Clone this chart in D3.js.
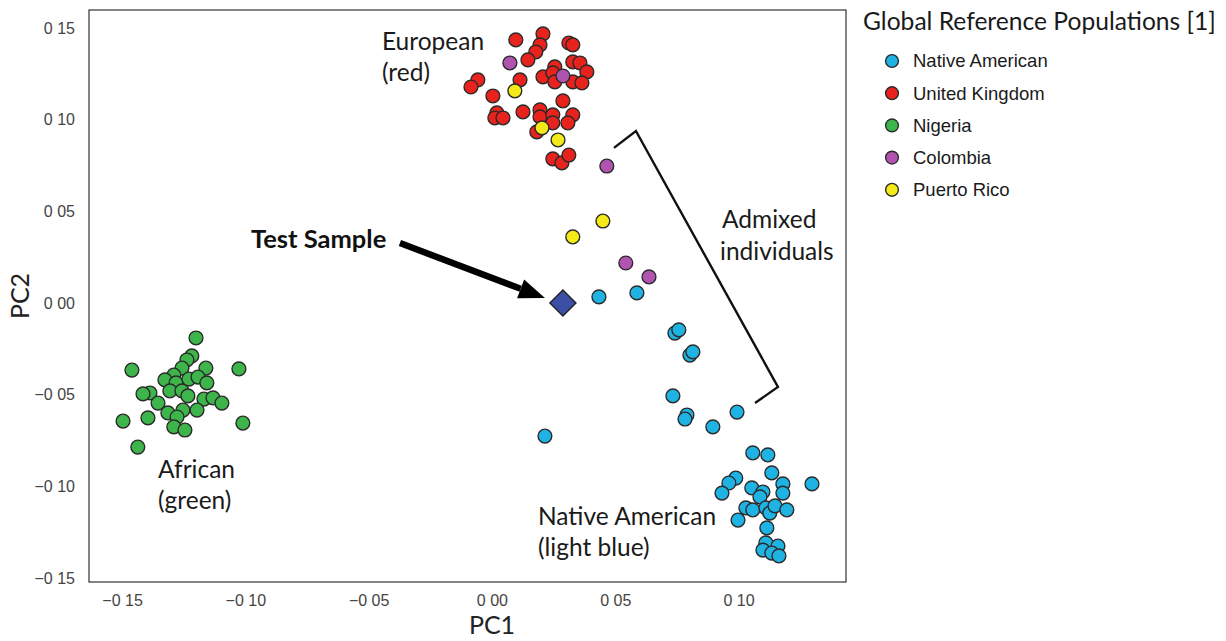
<!DOCTYPE html>
<html>
<head>
<meta charset="utf-8">
<script src="https://d3js.org/d3.v7.min.js"></script>
<style>
  body { margin: 0; background: #fff; }
</style>
</head>
<body>
<div class="graph"></div>
<script>
// PC1 / PC2 coordinates
var nativeAmerican = [
    [0.0434, 0.0033], [0.0588, 0.0055], [0.0742, -0.0164], [0.0758, -0.0147],
    [0.0803, -0.0284], [0.0815, -0.0267], [0.0734, -0.0507], [0.0791, -0.0611],
    [0.0783, -0.0633], [0.0896, -0.0676], [0.0994, -0.0595], [0.0215, -0.0726],
    [0.1058, -0.0818], [0.1119, -0.0829], [0.1135, -0.0927], [0.0989, -0.0955],
    [0.0961, -0.0982], [0.0933, -0.1037], [0.1054, -0.1009], [0.1099, -0.1031],
    [0.1087, -0.1058], [0.1180, -0.0987], [0.1180, -0.1037], [0.1298, -0.0987],
    [0.1030, -0.1118], [0.1058, -0.1129], [0.1111, -0.1118], [0.1127, -0.1146],
    [0.1148, -0.1107], [0.1196, -0.1129], [0.0998, -0.1184], [0.1115, -0.1227],
    [0.1111, -0.1309], [0.1160, -0.1326], [0.1099, -0.1348], [0.1135, -0.1364],
    [0.1164, -0.1380]
];
var unitedKingdom = [
    [0.0097, 0.1435], [0.0207, 0.1468], [0.0195, 0.1408], [0.0178, 0.1369],
    [0.0146, 0.1326], [0.0312, 0.1418], [0.0328, 0.1408], [0.0255, 0.1288],
    [0.0328, 0.1315], [0.0357, 0.1309], [0.0385, 0.1260], [0.0207, 0.1233],
    [0.0247, 0.1255], [0.0255, 0.1206], [0.0328, 0.1206], [0.0365, 0.1200],
    [-0.0057, 0.1217], [-0.0085, 0.1178], [0.0114, 0.1217], [0.0004, 0.1129],
    [0.0020, 0.1037], [0.0012, 0.1009], [0.0045, 0.1009], [0.0126, 0.1042],
    [0.0195, 0.1053], [0.0195, 0.1015], [0.0247, 0.1026], [0.0247, 0.0982],
    [0.0288, 0.1102], [0.0328, 0.1026], [0.0308, 0.0982], [0.0182, 0.0933],
    [0.0247, 0.0786], [0.0284, 0.0764], [0.0312, 0.0807]
];
var nigeria = [
    [-0.1200, -0.0191], [-0.1217, -0.0289], [-0.1237, -0.0311], [-0.1257, -0.0355],
    [-0.1160, -0.0355], [-0.1460, -0.0366], [-0.1026, -0.0360], [-0.1290, -0.0393],
    [-0.1326, -0.0420], [-0.1281, -0.0436], [-0.1229, -0.0415], [-0.1192, -0.0404],
    [-0.1156, -0.0436], [-0.1306, -0.0480], [-0.1257, -0.0480], [-0.1233, -0.0507],
    [-0.1387, -0.0491], [-0.1415, -0.0496], [-0.1354, -0.0546], [-0.1168, -0.0524],
    [-0.1131, -0.0518], [-0.1095, -0.0546], [-0.1196, -0.0584], [-0.1253, -0.0584],
    [-0.1314, -0.0600], [-0.1277, -0.0622], [-0.1395, -0.0627], [-0.1496, -0.0644],
    [-0.1010, -0.0655], [-0.1290, -0.0676], [-0.1245, -0.0693], [-0.1436, -0.0786]
];
var colombia = [
    [0.0073, 0.1309], [0.0288, 0.1238], [0.0466, 0.0747], [0.0543, 0.0218], [0.0637, 0.0142]
];
var puertoRico = [
    [0.0093, 0.1157], [0.0203, 0.0955], [0.0268, 0.0889], [0.0450, 0.0447], [0.0328, 0.0360]
];
var testSample = [0.0288, 0.0];

var populations = ["Native American", "United Kingdom", "Nigeria", "Colombia", "Puerto Rico"];
var popColours = ["#1fb3e3", "#e8221d", "#3db54a", "#b054b0", "#f4ea17"];
var popPoints = [nativeAmerican, unitedKingdom, nigeria, colombia, puertoRico];

var tickValues = [-0.15, -0.10, -0.05, 0.00, 0.05, 0.10, 0.15];
var tickLabels = ["\u22120 15", "\u22120 10", "\u22120 05", "0 00", "0 05", "0 10", "0 15"];

// Configuration Variables
var width = 1226,
    height = 641,
    plotLeft = 89, plotRight = 846,
    plotTop = 10, plotBottom = 582;

var calibri = "Lato, 'Open Sans', sans-serif";
var arial = "'Liberation Sans', Arial, sans-serif";

var x = d3.scaleLinear().domain([-0.1634, 0.1436]).range([plotLeft, plotRight]);
var y = d3.scaleLinear().domain([0.1598, -0.1522]).range([plotTop, plotBottom]);

var svg = d3.select('.graph').append("svg")
    .attr("width", width)
    .attr("height", height)
    .style("display", "block");

// axes (no tick marks, just labels)
var xAxis = d3.axisBottom(x)
    .tickValues(tickValues.slice(0, 6))
    .tickSize(0)
    .tickPadding(13)
    .tickFormat(function(d, i) { return tickLabels[i]; });

var yAxis = d3.axisLeft(y)
    .tickValues(tickValues)
    .tickSize(0)
    .tickPadding(14)
    .tickFormat(function(d, i) { return tickLabels[i]; });

var gx = svg.append("g")
    .attr("transform", "translate(0," + plotBottom + ")")
    .call(xAxis);
var gy = svg.append("g")
    .attr("transform", "translate(" + plotLeft + ",0)")
    .call(yAxis);

[gx, gy].forEach(function(g) {
    g.select(".domain").remove();
    g.selectAll("text")
        .style("font-family", arial)
        .style("font-size", "16px")
        .style("fill", "#444");
});

svg.append("rect")
    .attr("x", plotLeft)
    .attr("y", plotTop)
    .attr("width", plotRight - plotLeft)
    .attr("height", plotBottom - plotTop)
    .style("fill", "none")
    .style("stroke", "#333")
    .style("stroke-width", 1.2);

// axis titles
svg.append("text")
    .attr("x", 492)
    .attr("y", 634)
    .attr("text-anchor", "middle")
    .style("font-family", calibri)
    .style("font-size", "25px")
    .style("fill", "#222")
    .text("PC1");

svg.append("text")
    .attr("transform", "translate(29," + (plotTop + plotBottom) / 2 + ") rotate(-90)")
    .attr("text-anchor", "middle")
    .style("font-family", calibri)
    .style("font-size", "25px")
    .style("fill", "#222")
    .text("PC2");

// points
populations.forEach(function(name, i) {
    svg.append("g").selectAll("circle")
        .data(popPoints[i])
        .enter().append("circle")
        .attr("cx", function(d) { return x(d[0]); })
        .attr("cy", function(d) { return y(d[1]); })
        .attr("r", 6.9)
        .style("fill", popColours[i])
        .style("stroke", "#2b2b2b")
        .style("stroke-width", 1.4);
});

// test sample diamond
svg.append("path")
    .attr("d", d3.symbol().type(d3.symbolSquare).size(340))
    .attr("transform", "translate(" + x(testSample[0]) + "," + y(testSample[1]) + ") rotate(45)")
    .style("fill", "#3b4fa5")
    .style("stroke", "#222")
    .style("stroke-width", 1.4);

// arrow
var arrowFrom = [x(-0.0373), y(0.0327)],
    arrowTo = [x(0.0215), y(0.0027)];
var ang = Math.atan2(arrowTo[1] - arrowFrom[1], arrowTo[0] - arrowFrom[0]);
var headLen = 26, headHalf = 10;
var base = [arrowTo[0] - headLen * Math.cos(ang), arrowTo[1] - headLen * Math.sin(ang)];
svg.append("line")
    .attr("x1", arrowFrom[0]).attr("y1", arrowFrom[1])
    .attr("x2", base[0]).attr("y2", base[1])
    .style("stroke", "#000")
    .style("stroke-width", 6.5);
svg.append("path")
    .attr("d", "M" + arrowTo +
        "L" + [base[0] + headHalf * Math.sin(ang), base[1] - headHalf * Math.cos(ang)] +
        "L" + [base[0] - headHalf * Math.sin(ang), base[1] + headHalf * Math.cos(ang)] + "Z")
    .style("fill", "#000");

// bracket around the admixed individuals
var bracket = [[0.0495, 0.0846], [0.0584, 0.0938], [0.1160, -0.0458], [0.1067, -0.0546]];
svg.append("path")
    .attr("d", d3.line().x(function(d) { return x(d[0]); }).y(function(d) { return y(d[1]); })(bracket))
    .style("fill", "none")
    .style("stroke", "#111")
    .style("stroke-width", 2.4);

// annotation labels
var notes = [
    {t: "European", x: 382, y: 50},
    {t: "(red)", x: 382, y: 81},
    {t: "African", x: 158, y: 478},
    {t: "(green)", x: 158, y: 509},
    {t: "Native American", x: 538, y: 525},
    {t: "(light blue)", x: 538, y: 556},
    {t: "Admixed", x: 722, y: 228},
    {t: "individuals", x: 720, y: 260}
];
svg.append("g").selectAll("text")
    .data(notes)
    .enter().append("text")
    .attr("x", function(d) { return d.x; })
    .attr("y", function(d) { return d.y; })
    .style("font-family", calibri)
    .style("font-size", "24.5px")
    .style("fill", "#1a1a1a")
    .text(function(d) { return d.t; });

svg.append("text")
    .attr("x", 251)
    .attr("y", 248)
    .style("font-family", calibri)
    .style("font-weight", "bold")
    .style("font-size", "25.5px")
    .style("fill", "#111")
    .text("Test Sample");

// legend
svg.append("text")
    .attr("x", 863)
    .attr("y", 30)
    .style("font-family", calibri)
    .style("font-size", "24.6px")
    .style("fill", "#1a1a1a")
    .text("Global Reference Populations [1]");

var legend = svg.append("g").selectAll("g")
    .data(populations)
    .enter().append("g")
    .attr("transform", function(d, i) { return "translate(892," + (61 + i * 32.2) + ")"; });

legend.append("circle")
    .attr("r", 6.4)
    .style("fill", function(d, i) { return popColours[i]; })
    .style("stroke", "#2b2b2b")
    .style("stroke-width", 1.4);

legend.append("text")
    .attr("x", 21)
    .attr("dy", "0.35em")
    .style("font-family", arial)
    .style("font-size", "18.5px")
    .style("fill", "#1a1a1a")
    .text(function(d) { return d; });
</script>
</body>
</html>
